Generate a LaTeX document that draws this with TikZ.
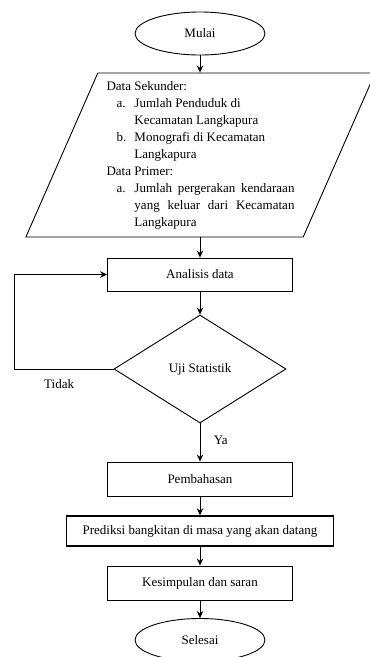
\documentclass[tikz,border=0pt]{standalone}
\usepackage{fontspec}
\setmainfont{Liberation Serif}
\usetikzlibrary{shapes.geometric,positioning,calc,arrows.meta}

\begin{document}
\begin{tikzpicture}[x=1pt, y=-1pt,
  every node/.style={font=\fontsize{13}{17}\selectfont},
  flow/.style={draw, line width=0.9pt, inner sep=0pt},
  terminal/.style={flow, ellipse, minimum width=130pt, minimum height=43pt},
  proses/.style={flow, rectangle, minimum width=185pt, minimum height=34pt},
  io/.style={flow, trapezium, trapezium left angle=66, trapezium right angle=114,
    trapezium stretches=true, minimum width=351pt, minimum height=164pt},
  keputusan/.style={flow, diamond, minimum width=172pt, minimum height=108pt},
  ptr/.style={->, >={Stealth[length=7pt,width=6.5pt]}, line width=0.9pt}
]
\useasboundingbox (0,0) rectangle (370,657);
\node[terminal] (mulai) at (200,33.5) {Mulai};
\node[io] (data) at (200.5,155) {%
  \begin{minipage}{188pt}\fontsize{13}{17}\selectfont
  Data Sekunder:\\
  \hspace*{10pt}\makebox[18pt][l]{a.}Jumlah Penduduk di\\
  \hspace*{28pt}Kecamatan Langkapura\\
  \hspace*{10pt}\makebox[18pt][l]{b.}Monografi di Kecamatan\\
  \hspace*{28pt}Langkapura\\
  Data Primer:\\
  \hspace*{10pt}\makebox[18pt][l]{a.}\makebox[160pt][s]{Jumlah pergerakan kendaraan}\\
  \hspace*{28pt}\makebox[160pt][s]{yang keluar dari Kecamatan}\\
  \hspace*{28pt}Langkapura
  \end{minipage}};
\node[proses, minimum height=33pt] (analisis) at (200,274.5) {Analisis data};
\node[keputusan] (uji) at (200,369) {Uji Statistik};
\node[proses] (pembahasan) at (200,479) {Pembahasan};
\node[proses, minimum width=267pt, minimum height=30pt, line width=1.4pt] (prediksi) at (200,531) {Prediksi bangkitan di masa yang akan datang};
\node[proses] (kesimpulan) at (200,583) {Kesimpulan dan saran};
\node[terminal] (selesai) at (200,640) {Selesai};

\draw[ptr] (mulai) -- (mulai |- data.north);
\draw[ptr] (analisis |- data.south) -- (analisis);
\draw[ptr] (analisis) -- (uji);
\draw[ptr] (uji.west) -- node[pos=0.55, below=7pt] {Tidak} ++(-99,0) |- (analisis.west);
\draw[ptr] (uji) -- node[pos=0.44, right=10pt] {Ya} (pembahasan);
\draw[ptr] (pembahasan) -- (prediksi);
\draw[ptr] (prediksi) -- (kesimpulan);
\draw[ptr] (kesimpulan) -- (selesai);
\end{tikzpicture}
\end{document}
